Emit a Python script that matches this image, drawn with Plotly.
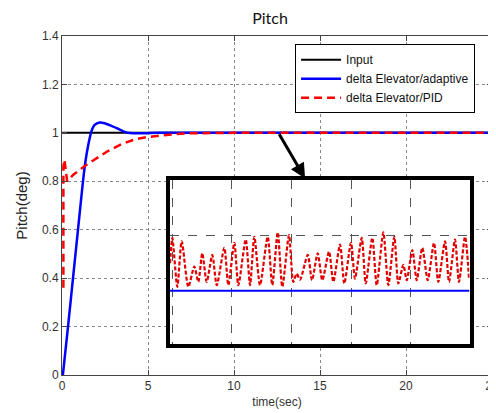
import plotly.graph_objects as go

# ---- data ----
t_input = [0, 25]
y_input = [1, 1]

t_adapt = [0.05, 0.35, 0.64, 0.93, 1.22, 1.38, 1.51, 1.71, 1.90, 2.19, 2.48, 2.87, 3.26, 3.65, 3.94, 4.5, 5.5, 25]
y_adapt = [0.0, 0.20, 0.40, 0.60, 0.80, 0.89, 0.944, 1.006, 1.033, 1.043, 1.040, 1.029, 1.017, 1.004, 0.999, 0.998, 1.0, 1.0]

t_pid = [0.08, 0.08, 0.14, 0.30, 0.45, 0.64, 0.93, 1.32, 1.90, 2.67, 3.45, 4.23, 5.0, 5.77, 6.55, 7.33, 8.5, 10.0, 25]
y_pid = [0.36, 0.86, 0.89, 0.80, 0.81, 0.826, 0.842, 0.863, 0.89, 0.925, 0.953, 0.973, 0.983, 0.990, 0.995, 0.998, 0.999, 1.0, 1.0]

# inset (zoomed view near y = 1); offsets in units of 1e-3
inset_t = [12.966, 13.005, 13.088, 13.162, 13.273, 13.373, 13.440, 13.507, 13.581, 13.675, 13.749,
           13.876, 13.943, 14.044, 14.111, 14.235, 14.307, 14.379, 14.474, 14.603, 14.680, 14.771,
           14.848, 14.960, 15.032, 15.089, 15.145, 15.274, 15.346, 15.441, 15.518, 15.631, 15.703,
           15.815, 15.887, 15.999, 16.066, 16.179, 16.246, 16.356, 16.430, 16.541, 16.624, 16.725,
           16.792, 16.876, 16.933, 17.027, 17.100, 17.194, 17.285, 17.390, 17.462, 17.575, 17.642,
           17.742, 17.809, 17.910, 17.977]
inset_pid = [0.50, 0.96, 0.07, 0.90, 0.07, 0.44, 0.16, 0.68, 0.16, 0.65, 0.10,
             0.78, 0.10, 0.87, 0.10, 0.93, 0.10, 0.98, 0.10, 0.98, 0.10, 1.06,
             0.07, 1.01, 0.16, 0.31, 0.20, 0.65, 0.19, 0.68, 0.19, 0.71, 0.16,
             0.84, 0.13, 0.87, 0.22, 0.96, 0.13, 0.96, 0.10, 1.06, 0.10, 0.98,
             0.13, 0.47, 0.19, 0.74, 0.19, 0.78, 0.19, 0.87, 0.16, 0.90, 0.16,
             0.93, 0.16, 0.98, 0.22]
inset_adapt_t = [12.966, 17.985]
inset_adapt = [0, 0]

x_ticks = [0, 5, 10, 15, 20, 25]
y_ticks = [0, 0.2, 0.4, 0.6, 0.8, 1, 1.2, 1.4]
y_tick_labels = ["0", "0.2", "0.4", "0.6", "0.8", "1", "1.2", "1.4"]

FONT = "Liberation Sans, Arial, sans-serif"

fig = go.Figure()
fig.add_trace(go.Scatter(x=t_input, y=y_input, mode="lines", name="Input",
                         line=dict(color="black", width=2)))
fig.add_trace(go.Scatter(x=t_adapt, y=y_adapt, mode="lines", name="delta Elevator/adaptive",
                         line=dict(color="#0000FF", width=2.5, shape="spline", smoothing=0.6)))
fig.add_trace(go.Scatter(x=t_pid, y=y_pid, mode="lines", name="delta Elevator/PID",
                         line=dict(color="#FF0000", width=2.5, dash="8px,5px")))

# inset
fig.add_trace(go.Scatter(x=inset_adapt_t, y=inset_adapt, mode="lines", showlegend=False,
                         xaxis="x2", yaxis="y2", line=dict(color="#0000FF", width=2)))
fig.add_trace(go.Scatter(x=inset_t, y=inset_pid, mode="lines", showlegend=False,
                         xaxis="x2", yaxis="y2",
                         line=dict(color="#E00000", width=2.2, dash="4px,2px", shape="spline", smoothing=0.7)))

axis_common = dict(showline=True, linecolor="#444", linewidth=1, mirror="ticks",
                   ticks="inside", ticklen=5, tickcolor="#444", automargin=False,
                   showgrid=True, gridcolor="#888", griddash="dot", gridwidth=1,
                   ticklabeloverflow="allow",
                   zeroline=False, tickfont=dict(family=FONT, size=12, color="#333"))

# page body adds an 8px offset; figure is sized to sit inside the 496x413 window
fig.update_layout(
    width=488, height=405,
    margin=dict(l=54, r=4, t=28, b=38, autoexpand=False),
    paper_bgcolor="white", plot_bgcolor="white",
    title=dict(text="Pitch", x=0.537, xanchor="center", y=0.9753, yanchor="middle",
               font=dict(family="Lato, Open Sans, sans-serif", size=16, color="#111")),
    xaxis=dict(range=[0, 25], tickvals=x_ticks, **axis_common,
               title=dict(text="time(sec)", font=dict(family=FONT, size=12, color="#333"), standoff=5)),
    yaxis=dict(range=[0, 1.4], tickvals=y_ticks, ticktext=y_tick_labels, **axis_common,
               title=dict(text="Pitch(deg)", font=dict(family=FONT, size=15, color="#222"), standoff=10)),
    xaxis2=dict(domain=[0.2512, 0.9477], anchor="y2", range=[12.966, 17.985], dtick=1, tick0=14,
                showticklabels=False, ticks="", showline=True, linecolor="black", linewidth=3.5,
                mirror=True, showgrid=True, gridcolor="#555", griddash="dash", zeroline=False,
                automargin=False),
    yaxis2=dict(domain=[0.0915, 0.5756], anchor="x2", range=[-0.972, 2.018], dtick=1, tick0=0,
                showticklabels=False, ticks="", showline=True, linecolor="black", linewidth=3.5,
                mirror=True, showgrid=True, gridcolor="#555", griddash="dash", zeroline=False,
                automargin=False),
    legend=dict(x=0.542, y=0.976, xanchor="left", yanchor="top", bgcolor="white",
                bordercolor="black", borderwidth=1, font=dict(family=FONT, size=12, color="#111"),
                tracegroupgap=0, itemwidth=40),
    showlegend=True,
)

fig.add_shape(type="rect", xref="x2 domain", yref="y2 domain", x0=0, x1=1, y0=0, y1=1,
              fillcolor="white", line=dict(width=0), layer="below")

fig.add_annotation(x=14.13, y=0.812, ax=12.58, ay=1.0, xref="x", yref="y", axref="x", ayref="y",
                   text="", showarrow=True, arrowhead=2, arrowsize=1, arrowwidth=3, arrowcolor="black")

fig.write_html("out.html")
